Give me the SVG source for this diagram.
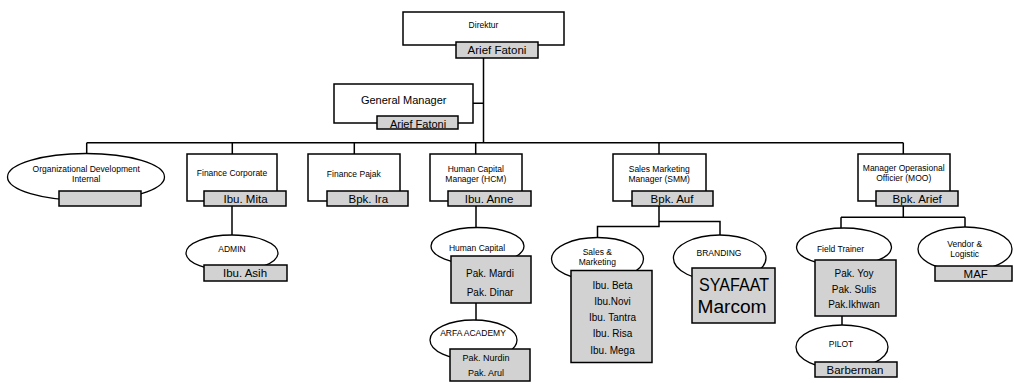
<svg xmlns="http://www.w3.org/2000/svg" width="1014" height="383" viewBox="0 0 1014 383">
<style>
.box{fill:#fff;stroke:#000;stroke-width:1.5}
.ell{fill:#fff;stroke:#000;stroke-width:1.3}
.gray{fill:#d2d2d2;stroke:#000;stroke-width:1.5}
.ln{fill:none;stroke:#000;stroke-width:1.5}
text{font-family:"Liberation Sans",Arial,sans-serif;fill:#000;text-anchor:middle}
.s{font-size:8.5px}
.m{font-size:10px}
.n{font-size:11.5px}
.l{font-size:18px}
</style>
<rect width="1014" height="383" fill="#fff"/>
<g id="connectors">
<path class="ln" d="M483.5 58 V142.7 M472.7 103.3 H483.5 M86.7 142.7 H903.3 M86.7 142.7 V154 M232.3 142.7 V154 M354.3 142.7 V154 M475.7 142.7 V154 M659 142.7 V154 M903.3 142.7 V154"/>
<path class="ln" d="M232 206 V235"/>
<path class="ln" d="M476 206 V227.5 M476 303 V320"/>
<path class="ln" d="M659 206 V226.5 H597.5 V237.5 M659 221.5 H720 V235"/>
<path class="ln" d="M903.3 206 V217.3 M841 217.3 H965 M841 217.3 V228 M965 217.3 V227.5 M842 316 V325"/>
</g>
<g id="direktur">
<rect class="box" x="403" y="12" width="161" height="33"/>
<text class="s" x="483.5" y="28">Direktur</text>
<rect class="gray" x="456" y="42" width="82" height="16"/>
<text class="n" x="497" y="54">Arief Fatoni</text>
</g>
<g id="general-manager">
<rect class="box" x="334" y="84" width="139" height="39"/>
<text x="403.7" y="104" style="font-size:11px">General Manager</text>
<rect class="gray" x="377" y="116" width="81" height="13"/>
<text x="418" y="127.5" style="font-size:11px">Arief Fatoni</text>
</g>
<g id="od-internal">
<ellipse class="ell" cx="86" cy="177" rx="78.5" ry="23.5"/>
<text class="s" x="86.2" y="171.7">Organizational Development</text>
<text class="s" x="86.2" y="182.3">Internal</text>
<rect class="gray" x="59" y="191" width="82" height="15"/>
</g>
<g id="finance-corporate">
<rect class="box" x="187" y="154" width="90" height="47"/>
<text class="s" x="232" y="175.7">Finance Corporate</text>
<rect class="gray" x="204" y="191" width="82" height="15"/>
<text class="n" x="245.5" y="203">Ibu. Mita</text>
</g>
<g id="admin">
<ellipse class="ell" cx="232" cy="253" rx="46" ry="18"/>
<text class="s" x="232" y="252">ADMIN</text>
<rect class="gray" x="204" y="265" width="83" height="16"/>
<text class="n" x="245" y="277">Ibu. Asih</text>
</g>
<g id="finance-pajak">
<rect class="box" x="308" y="154" width="92" height="47"/>
<text class="s" x="353.8" y="176.7">Finance Pajak</text>
<rect class="gray" x="327" y="191" width="81" height="15"/>
<text class="n" x="368.3" y="203">Bpk. Ira</text>
</g>
<g id="hcm">
<rect class="box" x="430" y="154" width="92" height="47"/>
<text class="s" x="475.8" y="172.3">Human Capital</text>
<text class="s" x="475.8" y="182.3">Manager (HCM)</text>
<rect class="gray" x="448" y="191" width="83" height="15"/>
<text class="n" x="489" y="203">Ibu. Anne</text>
</g>
<g id="human-capital">
<ellipse class="ell" cx="477.5" cy="246" rx="46.5" ry="18.5"/>
<text class="s" x="477" y="251">Human Capital</text>
<rect class="gray" x="451" y="256" width="80" height="47"/>
<text class="m" x="490" y="277">Pak. Mardi</text>
<text class="m" x="490" y="295.5">Pak. Dinar</text>
</g>
<g id="arfa-academy">
<ellipse class="ell" cx="473.5" cy="340" rx="43.5" ry="20"/>
<text class="s" x="473" y="336">ARFA ACADEMY</text>
<rect class="gray" x="450" y="349" width="80" height="32"/>
<text x="486" y="361" style="font-size:9px">Pak. Nurdin</text>
<text x="486" y="375.5" style="font-size:9px">Pak. Arul</text>
</g>
<g id="smm">
<rect class="box" x="613" y="154" width="93" height="47"/>
<text class="s" x="659.2" y="172">Sales Marketing</text>
<text class="s" x="659.2" y="182.3">Manager (SMM)</text>
<rect class="gray" x="632" y="191" width="81" height="15"/>
<text class="n" x="672" y="203">Bpk. Auf</text>
</g>
<g id="sales-marketing">
<ellipse class="ell" cx="597.5" cy="259" rx="46" ry="21.5"/>
<text class="s" x="597.3" y="255">Sales &amp;</text>
<text class="s" x="597.3" y="265">Marketing</text>
<rect class="gray" x="571" y="270.5" width="81" height="92"/>
<text class="m" x="612.5" y="288.5">Ibu. Beta</text>
<text class="m" x="612.5" y="304.5">Ibu.Novi</text>
<text class="m" x="612.5" y="320.5">Ibu. Tantra</text>
<text class="m" x="612.5" y="337">Ibu. Risa</text>
<text class="m" x="612.5" y="353.5">Ibu. Mega</text>
</g>
<g id="branding">
<ellipse class="ell" cx="719.7" cy="258" rx="46.3" ry="23"/>
<text class="s" x="719" y="256">BRANDING</text>
<rect class="gray" x="692" y="268" width="83" height="55"/>
<text class="l" x="734" y="291" textLength="70" lengthAdjust="spacingAndGlyphs">SYAFAAT</text>
<text class="l" x="732" y="312.5" textLength="69" lengthAdjust="spacingAndGlyphs">Marcom</text>
</g>
<g id="moo">
<rect class="box" x="858" y="154" width="92" height="47"/>
<text class="s" x="903.7" y="170.5">Manager Operasional</text>
<text class="s" x="903.7" y="180.5">Officier (MOO)</text>
<rect class="gray" x="876" y="191" width="82" height="15"/>
<text class="n" x="917.2" y="203">Bpk. Arief</text>
</g>
<g id="field-trainer">
<ellipse class="ell" cx="844" cy="247" rx="47.5" ry="19"/>
<text class="s" x="840.5" y="252">Field Trainer</text>
<rect class="gray" x="815" y="260" width="81" height="56"/>
<text class="m" x="854" y="277">Pak. Yoy</text>
<text class="m" x="854" y="292.5">Pak. Sulis</text>
<text class="m" x="854" y="308">Pak.Ikhwan</text>
</g>
<g id="pilot">
<ellipse class="ell" cx="842" cy="347" rx="46" ry="22"/>
<text class="s" x="841" y="347">PILOT</text>
<rect class="gray" x="815" y="362" width="82" height="15"/>
<text class="n" x="855" y="374">Barberman</text>
</g>
<g id="vendor-logistic">
<ellipse class="ell" cx="965" cy="249" rx="47" ry="22"/>
<text class="s" x="964.7" y="247">Vendor &amp;</text>
<text class="s" x="964.7" y="257">Logistic</text>
<rect class="gray" x="935" y="266" width="77" height="15"/>
<text class="n" x="975.7" y="278">MAF</text>
</g>
</svg>
